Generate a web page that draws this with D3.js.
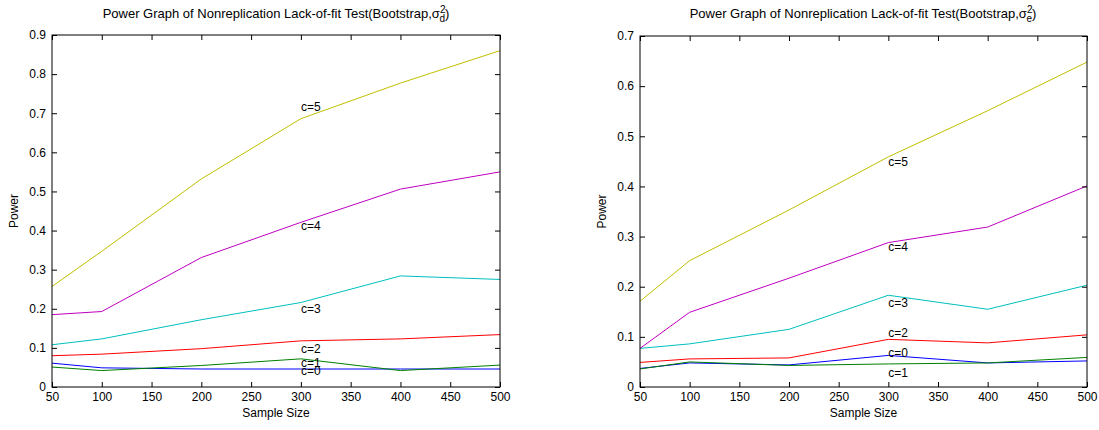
<!DOCTYPE html>
<html>
<head>
<meta charset="utf-8">
<script src="https://cdn.jsdelivr.net/npm/d3@7"></script>
<style>
  body { margin: 0; background: #fff; }
  svg { display: block; font-family: "Liberation Sans", Arial, sans-serif; }
  .axis path { display: none; }
  .axis line { stroke: #000; }
  .axis text { fill: #000; font-size: 12px; }
</style>
</head>
<body>
<svg width="1099" height="430"></svg>
<script>
// sample sizes (x) and labels
var sampleSizes = [50, 100, 200, 300, 400, 500];
var xTicks = [50, 100, 150, 200, 250, 300, 350, 400, 450, 500];
var seriesNames = ["c=0", "c=1", "c=2", "c=3", "c=4", "c=5"];

// left panel: sigma_d^2
var d_c0 = [0.061, 0.049, 0.046, 0.046, 0.046, 0.046];
var d_c1 = [0.051, 0.042, 0.055, 0.072, 0.042, 0.056];
var d_c2 = [0.080, 0.084, 0.098, 0.118, 0.123, 0.134];
var d_c3 = [0.108, 0.123, 0.172, 0.216, 0.284, 0.275];
var d_c4 = [0.185, 0.193, 0.331, 0.421, 0.506, 0.550];
var d_c5 = [0.257, 0.347, 0.532, 0.686, 0.777, 0.860];
var d_labelY = [0.041, 0.063, 0.098, 0.200, 0.413, 0.717];
var d_yTicks = [0, 0.1, 0.2, 0.3, 0.4, 0.5, 0.6, 0.7, 0.8, 0.9];

// right panel: sigma_e^2
var e_c0 = [0.037, 0.048, 0.044, 0.063, 0.048, 0.052];
var e_c1 = [0.036, 0.050, 0.043, 0.046, 0.048, 0.059];
var e_c2 = [0.049, 0.056, 0.058, 0.095, 0.088, 0.104];
var e_c3 = [0.077, 0.086, 0.115, 0.183, 0.155, 0.203];
var e_c4 = [0.077, 0.149, 0.217, 0.288, 0.319, 0.401];
var e_c5 = [0.171, 0.252, 0.353, 0.459, 0.551, 0.648];
var e_labelY = [0.069, 0.0285, 0.109, 0.168, 0.280, 0.450];
var e_yTicks = [0, 0.1, 0.2, 0.3, 0.4, 0.5, 0.6, 0.7];

// MATLAB default colour order
var colors = ["#0000ff", "#008000", "#ff0000", "#00bfbf", "#bf00bf", "#bfbf00"];

var svg = d3.select("svg");

drawPanel({left: 52, top: 35, width: 448, height: 352},
  [d_c0, d_c1, d_c2, d_c3, d_c4, d_c5], d_labelY, d_yTicks, 0.9, "d", 276);
drawPanel({left: 640, top: 36, width: 447, height: 351},
  [e_c0, e_c1, e_c2, e_c3, e_c4, e_c5], e_labelY, e_yTicks, 0.7, "e", 863);

function drawPanel(box, series, labelY, yTicks, yMax, sub, titleX) {
  var g = svg.append("g").attr("transform", "translate(" + box.left + "," + box.top + ")");

  var x = d3.scaleLinear().domain([50, 500]).range([0, box.width]);
  var y = d3.scaleLinear().domain([0, yMax]).range([box.height, 0]);
  var fmt = d3.format("~g");

  // lines
  var line = d3.line()
      .x(function(d, i) { return x(sampleSizes[i]); })
      .y(function(d) { return y(d); });

  series.forEach(function(s, i) {
    g.append("path")
        .datum(s)
        .attr("fill", "none")
        .attr("stroke", colors[i])
        .attr("stroke-width", 1)
        .attr("d", line);
  });

  // curve labels at x = 300
  series.forEach(function(s, i) {
    g.append("text")
        .attr("x", x(300))
        .attr("y", y(labelY[i]))
        .attr("dy", "0.35em")
        .style("font-size", "12px")
        .text(seriesNames[i]);
  });

  // axes with inward ticks on all four sides
  g.append("g").attr("class", "axis")
      .attr("transform", "translate(0," + box.height + ")")
      .call(d3.axisBottom(x).tickValues(xTicks).tickSizeInner(-5).tickSizeOuter(0).tickPadding(5).tickFormat(fmt));
  g.append("g").attr("class", "axis")
      .call(d3.axisTop(x).tickValues(xTicks).tickSizeInner(-5).tickSizeOuter(0).tickFormat(""));
  g.append("g").attr("class", "axis")
      .call(d3.axisLeft(y).tickValues(yTicks).tickSizeInner(-5).tickSizeOuter(0).tickPadding(6).tickFormat(fmt));
  g.append("g").attr("class", "axis")
      .attr("transform", "translate(" + box.width + ",0)")
      .call(d3.axisRight(y).tickValues(yTicks).tickSizeInner(-5).tickSizeOuter(0).tickFormat(""));

  g.append("rect")
      .attr("x", 0).attr("y", 0)
      .attr("width", box.width).attr("height", box.height)
      .attr("fill", "none").attr("stroke", "#000");

  // axis labels
  g.append("text")
      .attr("x", box.width / 2)
      .attr("y", box.height + 30)
      .attr("text-anchor", "middle")
      .style("font-size", "12px")
      .text("Sample Size");

  g.append("text")
      .attr("transform", "translate(-34," + (box.height / 2) + ") rotate(-90)")
      .attr("text-anchor", "middle")
      .style("font-size", "12px")
      .text("Power");

  // title with sigma and stacked super/subscript
  var t = svg.append("text")
      .attr("x", titleX)
      .attr("y", 18)
      .attr("text-anchor", "middle")
      .style("font-size", "13px");
  t.append("tspan").text("Power Graph of Nonreplication Lack-of-fit Test(Bootstrap,\u03c3");
  t.append("tspan").attr("dy", -5).style("font-size", "10px").text("2");
  t.append("tspan").attr("dx", -6).attr("dy", 9).style("font-size", "10px").text(sub);
  t.append("tspan").attr("dy", -4).text(")");
}
</script>
</body>
</html>
